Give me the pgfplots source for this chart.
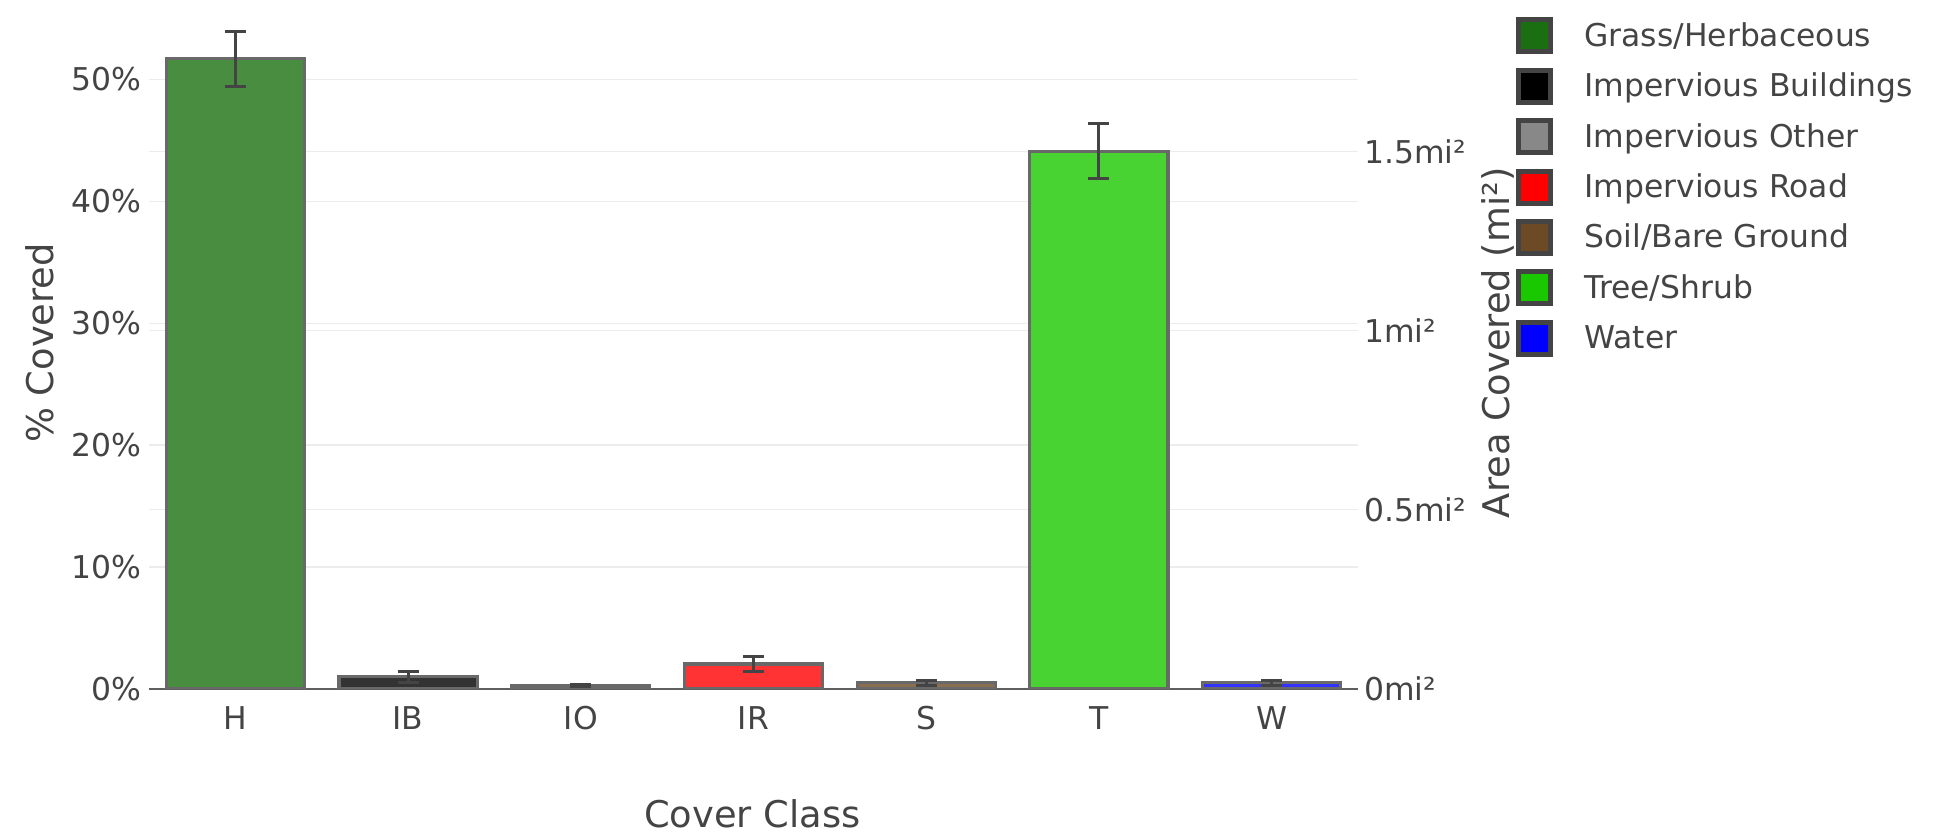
\documentclass[border=0pt]{standalone}
\usepackage{fontspec}
\setmainfont{DejaVu Sans}
\usepackage{pgfplots}
\pgfplotsset{compat=1.18}
\definecolor{txt}{RGB}{68,68,68}
\definecolor{edgeleg}{RGB}{68,68,68}
\definecolor{baredge}{RGB}{105,105,105}
\definecolor{errc}{RGB}{68,68,68}
\definecolor{gridc}{RGB}{236,236,236}
\definecolor{basec}{RGB}{95,95,95}
\definecolor{cH}{RGB}{26,112,16}
\definecolor{cIB}{RGB}{0,0,0}
\definecolor{cIO}{RGB}{136,136,136}
\definecolor{cIR}{RGB}{255,0,0}
\definecolor{cS}{RGB}{108,74,38}
\definecolor{cT}{RGB}{26,200,0}
\definecolor{cW}{RGB}{0,0,255}
\pgfplotsset{
  mybar/.style={ybar, bar width=0.8, bar shift=0pt, draw=baredge, line width=1.6pt, forget plot,
    error bars/y dir=both, error bars/y explicit,
    error bars/error bar style={line width=1.5pt, draw=errc},
    error bars/error mark options={rotate=90, line width=1.5pt, draw=errc, mark size=5.25pt}},
  legimg/.style={legend image code/.code={\filldraw[##1, line width=2.5pt, draw=edgeleg] (0pt,-8pt) rectangle (16pt,8pt);}},
}
\begin{document}
\begin{tikzpicture}[x=1pt,y=1pt]
\useasboundingbox (0,0) rectangle (975,417);
% right axis (area)
\begin{axis}[at={(74.5pt,72.5pt)}, anchor=south west, scale only axis,
  width=604.5pt, height=346.2pt,
  xmin=-0.5, xmax=6.5, ymin=0, ymax=1.932,
  axis x line=none, axis y line*=right,
  y axis line style={draw=none},
  major tick length=0pt, tick style={draw=none},
  ytick={0,0.5,1,1.5}, yticklabels={0mi²,0.5mi²,1mi²,1.5mi²},
  ymajorgrids, grid style={draw=gridc, line width=0.7pt},
  yticklabel style={anchor=west, inner sep=0pt, xshift=3pt, font=\fontsize{15.7}{18}\selectfont, text=txt},
  ylabel={Area Covered (mi²)},
  ylabel style={at={(axis description cs:1.1158,0.5)}, anchor=center, font=\fontsize{18.4}{22}\selectfont, text=txt},
]
\addplot[draw=none, forget plot] coordinates {(0,0)};
\end{axis}
% main axis (percent)
\begin{axis}[at={(74.5pt,72.5pt)}, anchor=south west, scale only axis,
  width=604.5pt, height=346.2pt,
  xmin=-0.5, xmax=6.5, ymin=0, ymax=56.8,
  axis x line*=bottom, axis y line*=left,
  y axis line style={draw=none},
  x axis line style={draw=basec, line width=1pt},
  major tick length=0pt, tick style={draw=none},
  xtick={0,1,2,3,4,5,6}, xticklabels={H,IB,IO,IR,S,T,W},
  ytick={0,10,20,30,40,50}, yticklabels={0\%,10\%,20\%,30\%,40\%,50\%},
  ymajorgrids, grid style={draw=gridc, line width=0.7pt},
  xticklabel style={anchor=base, inner sep=0pt, yshift=-20.5pt, font=\fontsize{15.7}{18}\selectfont, text=txt},
  yticklabel style={anchor=east, inner sep=0pt, xshift=-3.5pt, font=\fontsize{15.7}{18}\selectfont, text=txt},
  xlabel={Cover Class},
  xlabel style={at={(axis description cs:0.499,-0.1805)}, anchor=center, font=\fontsize{18.4}{22}\selectfont, text=txt},
  ylabel={\% Covered},
  ylabel style={at={(axis description cs:-0.0902,0.4997)}, anchor=center, font=\fontsize{18.4}{22}\selectfont, text=txt},
  legend style={at={(axis description cs:1.1307,0.9705)}, anchor=north west, draw=none, fill=none,
    inner sep=0pt, row sep=6.7pt, column sep=15.5pt, font=\fontsize{15.7}{18}\selectfont, text=txt,
    nodes={inner sep=0pt, anchor=west}},
  legend cell align=left,
]
\addlegendimage{legimg, fill=cH}\addlegendentry{Grass/Herbaceous}
\addlegendimage{legimg, fill=cIB}\addlegendentry{Impervious Buildings}
\addlegendimage{legimg, fill=cIO}\addlegendentry{Impervious Other}
\addlegendimage{legimg, fill=cIR}\addlegendentry{Impervious Road}
\addlegendimage{legimg, fill=cS}\addlegendentry{Soil/Bare Ground}
\addlegendimage{legimg, fill=cT}\addlegendentry{Tree/Shrub}
\addlegendimage{legimg, fill=cW}\addlegendentry{Water}
\addplot[mybar, fill=cH!80!white] coordinates {(0,51.7) +- (0,2.25)};
\addplot[mybar, fill=cIB!80!white] coordinates {(1,1.0) +- (0,0.45)};
\addplot[mybar, fill=cIO!80!white] coordinates {(2,0.3) +- (0,0.1)};
\addplot[mybar, fill=cIR!80!white] coordinates {(3,2.05) +- (0,0.6)};
\addplot[mybar, fill=cS!80!white] coordinates {(4,0.5) +- (0,0.2)};
\addplot[mybar, fill=cT!80!white] coordinates {(5,44.1) +- (0,2.25)};
\addplot[mybar, fill=cW!80!white] coordinates {(6,0.5) +- (0,0.2)};
\end{axis}
\end{tikzpicture}
\end{document}
